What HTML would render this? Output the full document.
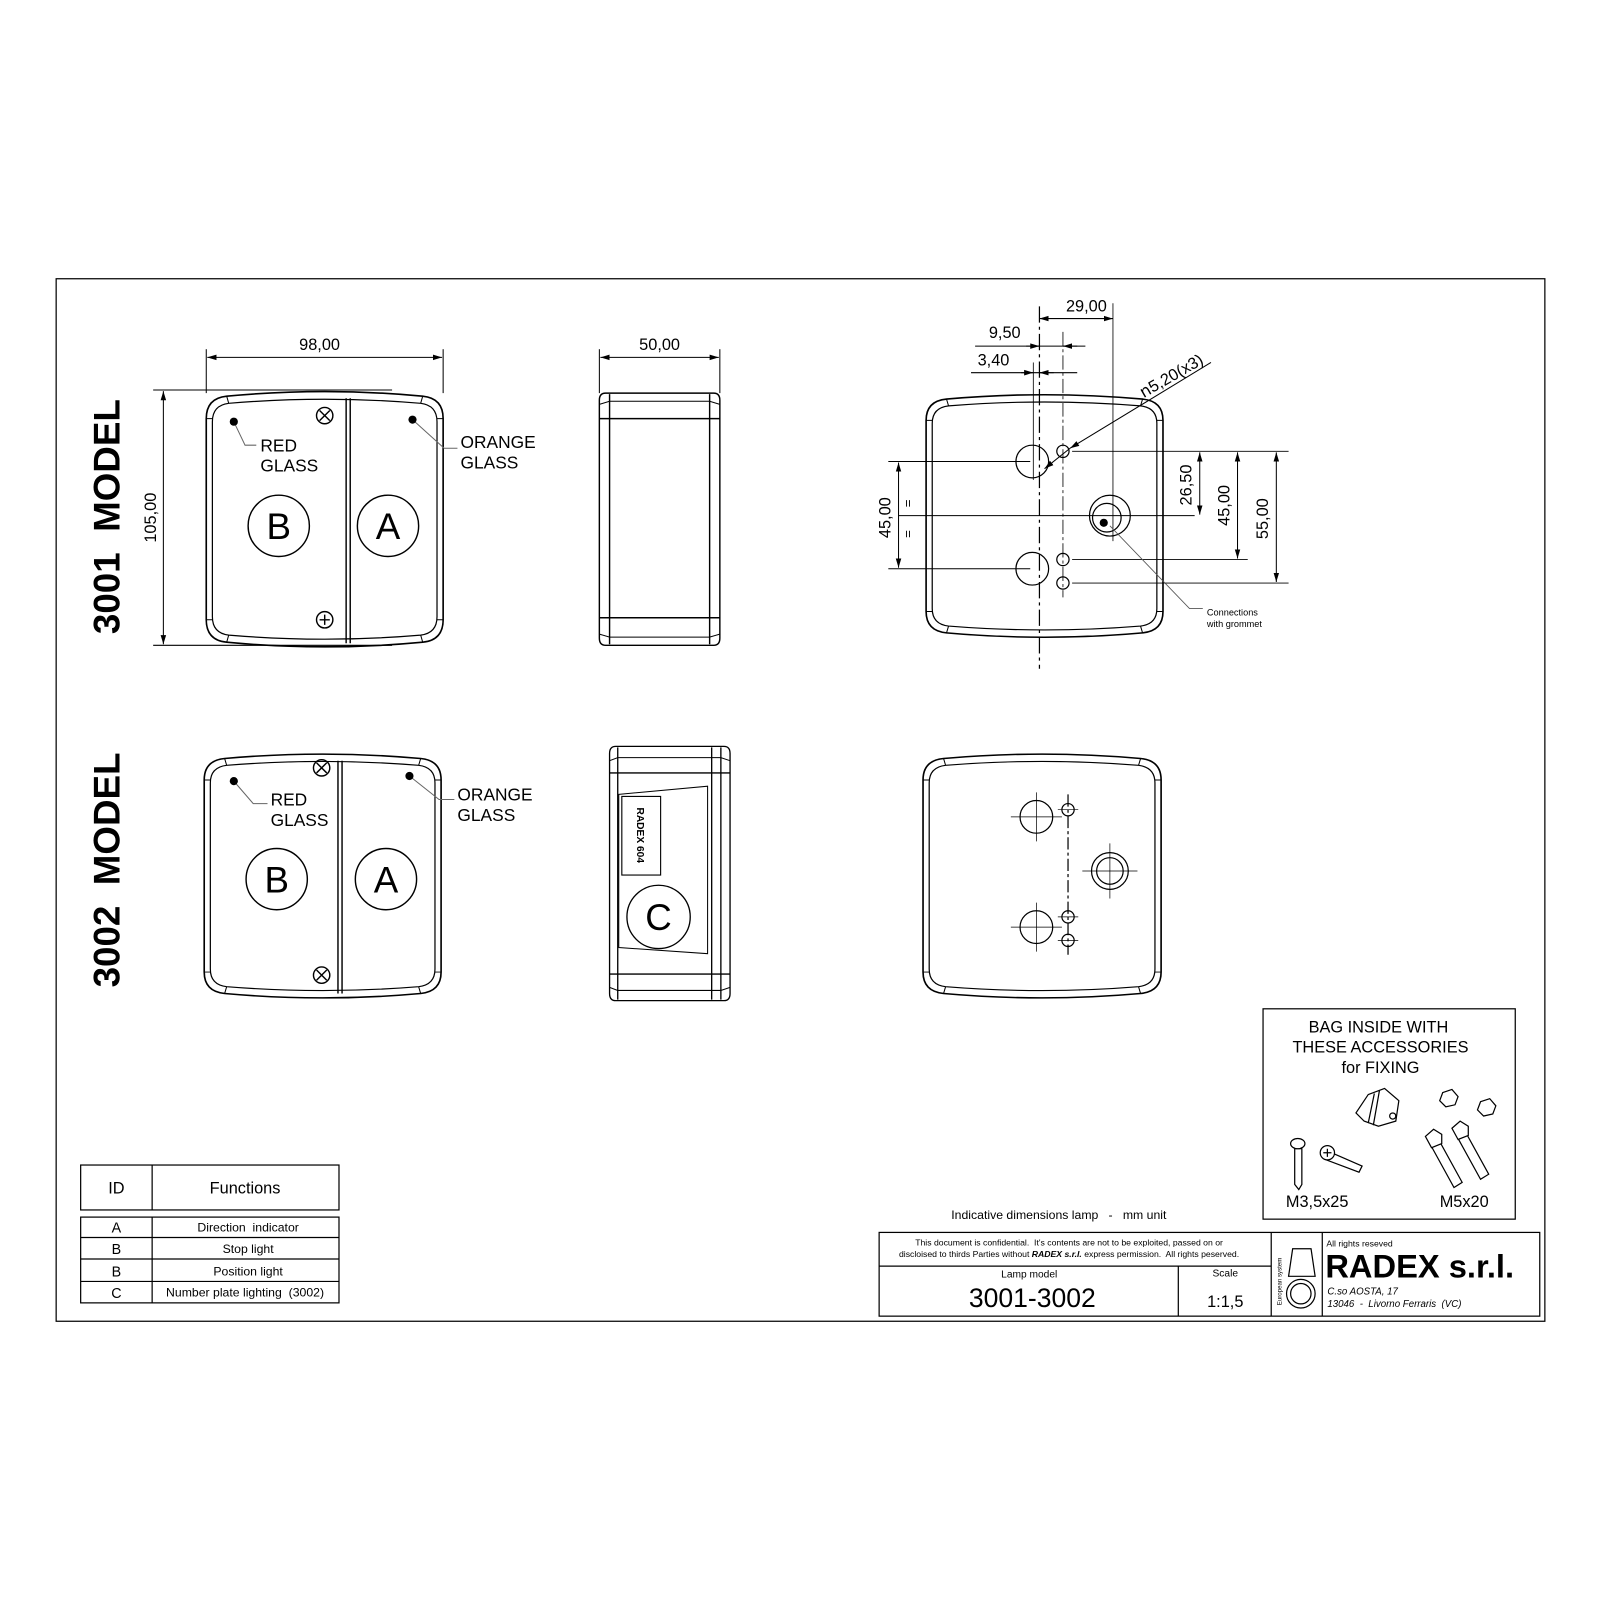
<!DOCTYPE html>
<html><head><meta charset="utf-8"><style>
html,body{margin:0;padding:0;background:#fff}
svg{display:block}
text{font-family:"Liberation Sans",sans-serif;fill:#000;white-space:pre}
</style></head><body>
<svg width="1600" height="1600" viewBox="0 0 1567 1567" xmlns="http://www.w3.org/2000/svg">
<defs>
<marker id="ar" viewBox="0 0 10 10" refX="10" refY="5" markerWidth="9" markerHeight="9" orient="auto-start-reverse" markerUnits="userSpaceOnUse"><path d="M0,2 L10,5 L0,8 Z" fill="#000"/></marker>
<g id="body" fill="none" stroke="#000" stroke-width="1.6">
<path d="M0,25 Q0,5 20,3 Q116,-6 212,3 Q232,5 232,25 L232,222 Q232,242 212,244 Q116,253 20,244 Q0,242 0,222 Z"/>
<path d="M6,28 Q6,12 22,10 Q116,2 210,10 Q226,12 226,28 L226,219 Q226,235 210,237 Q116,245 22,237 Q6,235 6,219 Z" stroke-width="1.2"/>
<path d="M0,25 L6,25 M226,25 L232,25 M0,222 L6,222 M226,222 L232,222 M20,3 L22,10 M212,3 L210,10 M20,244 L22,237 M212,244 L210,237" stroke-width="1"/>
</g>
</defs>
<rect x="55" y="273" width="1458" height="1021" fill="none" stroke="#000" stroke-width="1.2"/>

<text transform="translate(117,506) rotate(-90)" font-size="36" font-weight="bold" text-anchor="middle">3001  MODEL</text>
<text transform="translate(117,852) rotate(-90)" font-size="36" font-weight="bold" text-anchor="middle">3002  MODEL</text>

<use href="#body" transform="translate(202,385)"/>
<g stroke="#000" fill="none" stroke-width="1.4">
<line x1="339" y1="390" x2="339" y2="630"/><line x1="343" y1="390" x2="343" y2="630"/>
<circle cx="318" cy="407" r="8"/><path d="M313,402 L323,412 M323,402 L313,412"/>
<circle cx="318" cy="607" r="8"/><path d="M313,607 L323,607 M318,602 L318,612"/>
<circle cx="273" cy="515" r="30"/><circle cx="380" cy="515" r="30"/>
<path d="M229,413 L240,436 L251,436" stroke="#666" stroke-width="1"/>
<path d="M404,411 L435,439 L448,439" stroke="#666" stroke-width="1"/>
</g>
<circle cx="229" cy="413" r="4"/><circle cx="404" cy="411" r="4"/>
<text x="255" y="442" font-size="17">RED</text><text x="255" y="462" font-size="17">GLASS</text>
<text x="451" y="439" font-size="17">ORANGE</text><text x="451" y="459" font-size="17">GLASS</text>
<text x="273" y="528" font-size="36" text-anchor="middle">B</text>
<text x="380" y="528" font-size="36" text-anchor="middle">A</text>
<g stroke="#000" stroke-width="1">
<line x1="202" y1="342" x2="202" y2="385"/><line x1="434" y1="342" x2="434" y2="385"/>
<line x1="203" y1="350" x2="433" y2="350" marker-start="url(#ar)" marker-end="url(#ar)"/>
<line x1="150" y1="382" x2="384" y2="382"/><line x1="150" y1="632" x2="384" y2="632"/>
<line x1="160" y1="383" x2="160" y2="631" marker-start="url(#ar)" marker-end="url(#ar)"/>
<line x1="587" y1="342" x2="587" y2="385"/><line x1="705" y1="342" x2="705" y2="385"/>
<line x1="588" y1="350" x2="704" y2="350" marker-start="url(#ar)" marker-end="url(#ar)"/>
</g>
<text x="313" y="343" font-size="16" text-anchor="middle">98,00</text>
<text transform="translate(153,507) rotate(-90)" font-size="16" text-anchor="middle">105,00</text>
<text x="646" y="343" font-size="16" text-anchor="middle">50,00</text>

<g stroke="#000" fill="none" stroke-width="1.4">
<path d="M593,385 L699,385 Q705,385 705,392 L705,625 Q705,632 699,632 L593,632 Q587,632 587,625 L587,392 Q587,385 593,385 Z"/>
<line x1="597" y1="386" x2="597" y2="631"/><line x1="695" y1="386" x2="695" y2="631"/>
<line x1="587" y1="410" x2="705" y2="410"/><line x1="587" y1="605" x2="705" y2="605"/>
<path d="M587,396 L597,393 L695,393 L705,396" stroke-width="1"/>
<path d="M587,621 L597,624 L695,624 L705,621" stroke-width="1"/>
</g>

<use href="#body" transform="translate(907,388) scale(1.0,0.95)"/>
<g stroke="#000" fill="none" stroke-width="1.2">
<line x1="1018" y1="300" x2="1018" y2="655" stroke-dasharray="16,4,3,4"/>
<line x1="1041" y1="325" x2="1041" y2="585" stroke="#555" stroke-dasharray="14,3,3,3"/>
<line x1="1012" y1="355" x2="1012" y2="470" stroke-width="0.8"/>
<line x1="1090" y1="297" x2="1090" y2="530" stroke-width="0.8"/>
<circle cx="1011" cy="452" r="16"/><circle cx="1011" cy="557" r="16"/>
<circle cx="1041" cy="442" r="6"/><circle cx="1041" cy="548" r="6"/><circle cx="1041" cy="571" r="6"/>
<circle cx="1087" cy="505" r="20"/><circle cx="1084" cy="507" r="14"/>
<line x1="870" y1="452" x2="1009" y2="452" stroke-width="0.9"/>
<line x1="870" y1="557" x2="1009" y2="557" stroke-width="0.9"/>
<line x1="880" y1="505" x2="1170" y2="505" stroke-width="0.9"/>
<line x1="1050" y1="442" x2="1262" y2="442" stroke-width="0.9"/>
<line x1="1050" y1="548" x2="1222" y2="548" stroke-width="0.9"/>
<line x1="1050" y1="571" x2="1262" y2="571" stroke-width="0.9"/>
</g>
<circle cx="1081" cy="512" r="4"/>
<g stroke="#000" stroke-width="1">
<line x1="1018" y1="312" x2="1090" y2="312" marker-start="url(#ar)" marker-end="url(#ar)"/>
<line x1="955" y1="339" x2="1063" y2="339"/>
<line x1="1005" y1="339" x2="1018" y2="339" marker-end="url(#ar)"/>
<line x1="1055" y1="339" x2="1041" y2="339" marker-end="url(#ar)"/>
<line x1="951" y1="365" x2="1055" y2="365"/>
<line x1="1000" y1="365" x2="1012" y2="365" marker-end="url(#ar)"/>
<line x1="1032" y1="365" x2="1018" y2="365" marker-end="url(#ar)"/>
<line x1="1186" y1="355" x2="1048" y2="439" marker-end="url(#ar)"/>
<line x1="1048" y1="439" x2="1023" y2="459" marker-end="url(#ar)"/>
<line x1="1175" y1="443" x2="1175" y2="504" marker-start="url(#ar)" marker-end="url(#ar)"/>
<line x1="1212" y1="443" x2="1212" y2="547" marker-start="url(#ar)" marker-end="url(#ar)"/>
<line x1="1250" y1="443" x2="1250" y2="570" marker-start="url(#ar)" marker-end="url(#ar)"/>
<line x1="880" y1="453" x2="880" y2="556" marker-start="url(#ar)" marker-end="url(#ar)"/>
<path d="M1087,515 L1165,596 L1178,596" fill="none" stroke="#555" stroke-width="0.8"/>
</g>
<text x="1064" y="305" font-size="16" text-anchor="middle">29,00</text>
<text x="984" y="331" font-size="16" text-anchor="middle">9,50</text>
<text x="973" y="358" font-size="16" text-anchor="middle">3,40</text>
<text transform="translate(1120,390) rotate(-30)" font-size="16">ո5,20(x3)</text>
<text transform="translate(1167,475) rotate(-90)" font-size="16" text-anchor="middle">26,50</text>
<text transform="translate(1204,495) rotate(-90)" font-size="16" text-anchor="middle">45,00</text>
<text transform="translate(1242,508) rotate(-90)" font-size="16" text-anchor="middle">55,00</text>
<text transform="translate(872,507) rotate(-90)" font-size="16" text-anchor="middle">45,00</text>
<text transform="translate(893,493) rotate(-90)" font-size="13" text-anchor="middle">=</text>
<text transform="translate(893,523) rotate(-90)" font-size="13" text-anchor="middle">=</text>
<text x="1182" y="603" font-size="9">Connections</text>
<text x="1182" y="614" font-size="9">with grommet</text>

<use href="#body" transform="translate(200,740) scale(1,0.955)"/>
<g stroke="#000" fill="none" stroke-width="1.4">
<line x1="331" y1="745" x2="331" y2="973"/><line x1="335" y1="745" x2="335" y2="973"/>
<circle cx="315" cy="752" r="8"/><path d="M310,747 L320,757 M320,747 L310,757"/>
<circle cx="315" cy="955" r="8"/><path d="M310,950 L320,960 M320,950 L310,960"/>
<circle cx="271" cy="861" r="30"/><circle cx="378" cy="861" r="30"/>
<path d="M229,765 L248,787 L262,787" stroke="#666" stroke-width="1"/>
<path d="M401,760 L430,783 L445,783" stroke="#666" stroke-width="1"/>
</g>
<circle cx="229" cy="765" r="4"/><circle cx="401" cy="760" r="4"/>
<text x="265" y="789" font-size="17">RED</text><text x="265" y="809" font-size="17">GLASS</text>
<text x="448" y="784" font-size="17">ORANGE</text><text x="448" y="804" font-size="17">GLASS</text>
<text x="271" y="874" font-size="36" text-anchor="middle">B</text>
<text x="378" y="874" font-size="36" text-anchor="middle">A</text>

<g stroke="#000" fill="none" stroke-width="1.3">
<path d="M603,731 L709,731 Q715,731 715,738 L715,973 Q715,980 709,980 L603,980 Q597,980 597,973 L597,738 Q597,731 603,731 Z"/>
<line x1="605" y1="732" x2="605" y2="979"/><line x1="697" y1="732" x2="697" y2="979"/><line x1="706" y1="732" x2="706" y2="979"/>
<line x1="597" y1="757" x2="715" y2="757"/><line x1="597" y1="954" x2="715" y2="954"/>
<path d="M597,745 L605,742 L706,742 L715,745 M597,967 L605,970 L706,970 L715,967" stroke-width="1"/>
<path d="M606,778 L693,770 L693,934 L606,928 Z" stroke-width="1"/>
<rect x="609" y="780" width="38" height="77" stroke-width="1.1"/>
<circle cx="645" cy="898" r="31"/>
</g>
<text transform="translate(624,818) rotate(90)" font-size="10" font-weight="bold" text-anchor="middle">RADEX 604</text>
<text x="645" y="911" font-size="36" text-anchor="middle">C</text>

<use href="#body" transform="translate(904,740) scale(1.005,0.955)"/>
<g stroke="#000" fill="none" stroke-width="1.2">
<line x1="1046" y1="778" x2="1046" y2="935" stroke-dasharray="12,3,3,3"/>
<circle cx="1015" cy="800" r="16"/><circle cx="1015" cy="908" r="16"/>
<circle cx="1046" cy="793" r="6"/><circle cx="1046" cy="898" r="6"/><circle cx="1046" cy="921" r="6"/>
<circle cx="1087" cy="853" r="18"/><circle cx="1087" cy="853" r="13"/>
<path d="M990,800 L1040,800 M1015,776 L1015,824 M990,908 L1040,908 M1015,884 L1015,932 M1060,853 L1114,853 M1087,826 L1087,880 M1036,793 L1056,793 M1036,898 L1056,898 M1036,921 L1056,921" stroke-width="0.7"/>
</g>

<g stroke="#000" fill="none" stroke-width="1.2">
<rect x="79" y="1141" width="253" height="44"/><line x1="149" y1="1141" x2="149" y2="1185"/>
<rect x="79" y="1192" width="253" height="84"/><line x1="149" y1="1192" x2="149" y2="1276"/>
<line x1="79" y1="1212" x2="332" y2="1212"/><line x1="79" y1="1233" x2="332" y2="1233"/><line x1="79" y1="1255" x2="332" y2="1255"/>
</g>
<text x="114" y="1169" font-size="16" text-anchor="middle">ID</text>
<text x="240" y="1169" font-size="16" text-anchor="middle">Functions</text>
<g font-size="12" text-anchor="middle">
<text x="114" y="1207" font-size="14">A</text><text x="243" y="1206">Direction  indicator</text>
<text x="114" y="1228" font-size="14">B</text><text x="243" y="1227">Stop light</text>
<text x="114" y="1250" font-size="14">B</text><text x="243" y="1249">Position light</text>
<text x="114" y="1271" font-size="14">C</text><text x="240" y="1270">Number plate lighting  (3002)</text>
</g>

<rect x="1237" y="988" width="247" height="206" fill="none" stroke="#000" stroke-width="1.2"/>
<g font-size="16" text-anchor="middle">
<text x="1350" y="1011">BAG INSIDE WITH</text>
<text x="1352" y="1031">THESE ACCESSORIES</text>
<text x="1352" y="1051">for FIXING</text>
</g>
<text x="1290" y="1182" font-size="16" text-anchor="middle">M3,5x25</text>
<text x="1434" y="1182" font-size="16" text-anchor="middle">M5x20</text>
<g stroke="#000" fill="#fff" stroke-width="1.2">
<path d="M1340,1072 L1356,1066 L1370,1078 L1367,1098 L1350,1103 L1336,1098 L1328,1090 Z"/>
<path d="M1346,1071 L1340,1100 M1351,1068 L1345,1102"/>
<circle cx="1364" cy="1093" r="3"/>
<polygon points="1413,1070 1422,1067 1428,1074 1425,1082 1416,1084 1410,1078"/>
<polygon points="1450,1079 1459,1076 1465,1083 1462,1091 1453,1093 1447,1087"/>
<path d="M1268,1125 L1275,1125 L1275,1160 L1272,1165 L1268,1160 Z"/>
<ellipse cx="1271" cy="1120" rx="7" ry="5"/>
<path d="M1302,1128 L1334,1142 L1331,1148 L1299,1136 Z"/>
<circle cx="1300" cy="1129" r="7"/><path d="M1296,1129 L1304,1129 M1300,1125 L1300,1133"/>
<path d="M1402,1123 L1410,1118 L1432,1158 L1424,1163 Z"/>
<polygon points="1396,1113 1404,1106 1412,1111 1412,1120 1402,1124"/>
<path d="M1428,1115 L1436,1110 L1458,1150 L1450,1155 Z"/>
<polygon points="1422,1105 1430,1098 1438,1103 1438,1112 1428,1116"/>
</g>

<text x="1037" y="1194" font-size="12" text-anchor="middle">Indicative dimensions lamp   -   mm unit</text>

<g stroke="#000" fill="none" stroke-width="1.2">
<rect x="861" y="1207" width="647" height="82"/>
<line x1="1245" y1="1207" x2="1245" y2="1289"/><line x1="1295" y1="1207" x2="1295" y2="1289"/>
<line x1="861" y1="1240" x2="1245" y2="1240"/><line x1="1154" y1="1240" x2="1154" y2="1289"/>
<path d="M1262,1250 L1288,1250 L1284,1223 L1266,1223 Z"/>
<circle cx="1274" cy="1267" r="14"/><circle cx="1274" cy="1267" r="10"/>
</g>
<text x="1047" y="1220" font-size="8.5" text-anchor="middle">This document is confidential.  It's contents are not to be exploited, passed on or</text>
<text x="1047" y="1231" font-size="8.5" text-anchor="middle">discloised to thirds Parties without <tspan font-weight="bold" font-style="italic">RADEX s.r.l.</tspan> express permission.  All rights peserved.</text>
<text x="1008" y="1251" font-size="10" text-anchor="middle">Lamp model</text>
<text x="1011" y="1280" font-size="26" text-anchor="middle">3001-3002</text>
<text x="1200" y="1250" font-size="10" text-anchor="middle">Scale</text>
<text x="1200" y="1280" font-size="16" text-anchor="middle">1:1,5</text>
<text transform="translate(1255,1255) rotate(-90)" font-size="6" text-anchor="middle">European system</text>
<text x="1299" y="1221" font-size="8.5">All rights reseved</text>
<text x="1298" y="1251" font-size="32" font-weight="bold">RADEX s.r.l.</text>
<text x="1300" y="1268" font-size="9.5" font-style="italic">C.so AOSTA, 17</text>
<text x="1300" y="1280" font-size="9.5" font-style="italic">13046  -  Livorno Ferraris  (VC)</text>
</svg>
</body></html>
